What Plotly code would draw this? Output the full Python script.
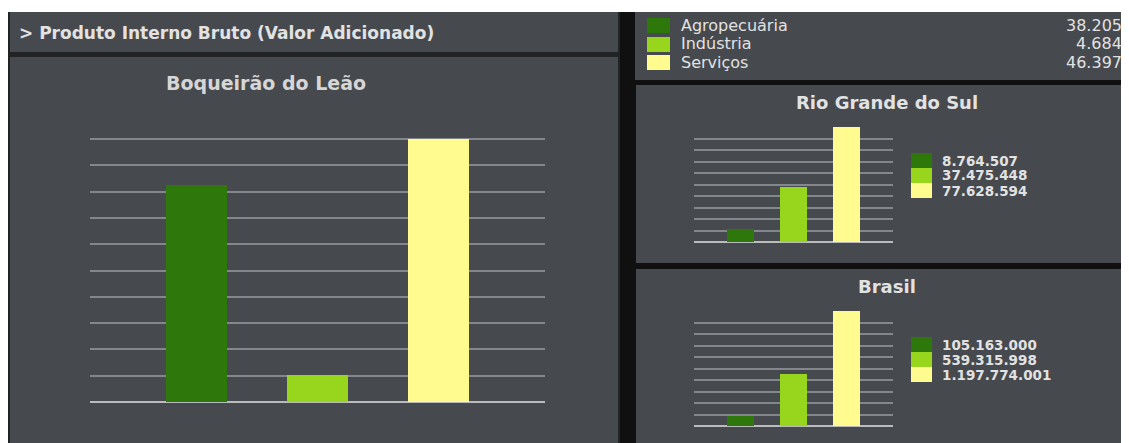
import plotly.graph_objects as go

# ---------------- data ----------------
categories = ["Agropecuária", "Indústria", "Serviços"]
boqueirao_values = [38205, 4684, 46397]
rs_values = [8764507, 37475448, 77628594]
brasil_values = [105163000, 539315998, 1197774001]

header_title = "> Produto Interno Bruto (Valor Adicionado)"
main_title = "Boqueirão do Leão"
rs_title = "Rio Grande do Sul"
brasil_title = "Brasil"

# ---------------- style ----------------
# the page body adds an 8px margin, so the figure is 8px smaller than the window
OX, OY = 8, 8
W, H = 1129 - OX, 443 - OY
COLORS = ["#2e780b", "#98d61d", "#fffb8f"]
PANEL = "#46494d"
DARK = "#101010"
GRID = "#83868a"
BASE = "#b9bbbd"
TEXT = "#e2e2e2"
FONT = "DejaVu Sans"


def fmt(v):
    return f"{v:,}".replace(",", ".")


def px(x):
    return (x - OX) / W


def py(y):
    return 1 - (y - OY) / H


fig = go.Figure()

panels = [
    ("x", "y", boqueirao_values),
    ("x2", "y2", rs_values),
    ("x3", "y3", brasil_values),
]
for xa, ya, vals in panels:
    fig.add_trace(go.Bar(
        x=categories, y=vals, xaxis=xa, yaxis=ya,
        marker=dict(color=COLORS, line=dict(width=0)),
        width=0.5, showlegend=False, hoverinfo="x+y",
    ))


def yaxis_cfg(vals, top, bottom, anchor):
    m = max(vals)
    return dict(
        domain=[py(bottom), py(top)], range=[0, m * 1.004],
        tickvals=[m * i / 10 for i in range(11)],
        showticklabels=False, showgrid=True, gridcolor=GRID, gridwidth=2,
        zeroline=True, zerolinecolor=BASE, zerolinewidth=2,
        fixedrange=True, anchor=anchor,
    )


def xaxis_cfg(left, right, anchor):
    return dict(
        domain=[px(left), px(right)], range=[-0.876, 2.876],
        showticklabels=False, showgrid=False, zeroline=False,
        type="category", fixedrange=True, anchor=anchor,
    )


shapes = []


def rect(x0, y0, x1, y1, color):
    shapes.append(dict(type="rect", xref="paper", yref="paper",
                       x0=px(x0), x1=px(x1), y0=py(y1), y1=py(y0),
                       fillcolor=color, line=dict(width=0), layer="below"))


# background frame pieces
rect(8, 12, 620, 443, "#222324")
rect(10, 12, 618, 52, PANEL)
rect(10, 57, 618, 443, PANEL)
rect(620, 12, 1129, 443, DARK)
rect(635, 12, 1129, 80, PANEL)
rect(636, 85, 1129, 263, PANEL)
rect(636, 269, 1129, 443, PANEL)

annotations = []


def text(x, y, s, size, anchor="left", bold=False, color=TEXT):
    annotations.append(dict(
        x=px(x), y=py(y), xref="paper", yref="paper", text=s, showarrow=False,
        xanchor=anchor, yanchor="middle",
        font=dict(family=FONT, size=size, color=color,
                  weight="bold" if bold else "normal"),
    ))


text(17, 33, header_title, 17, bold=True)
text(266, 83, main_title, 19, anchor="center", bold=True, color="#d6d6d6")
text(887, 102, rs_title, 18, anchor="center", bold=True)
text(887, 286, brasil_title, 18, anchor="center", bold=True)

# top-right legend
leg_rows = [25, 44, 62]
for i, cat in enumerate(categories):
    y = leg_rows[i]
    rect(647, y - 7, 670, y + 8, COLORS[i])
    text(679, y, cat, 16)
    text(1124, y, fmt(boqueirao_values[i]), 16, anchor="right")

# small legends for RS and Brasil
for vals, y0 in [(rs_values, 153), (brasil_values, 337)]:
    for i, v in enumerate(vals):
        yt = y0 + 15 * i
        rect(911, yt, 932, yt + 15, COLORS[i])
        text(940, yt + 7.5, fmt(v), 13.5, bold=True)

fig.update_layout(
    width=W, height=H,
    margin=dict(l=0, r=0, t=0, b=0),
    paper_bgcolor="white", plot_bgcolor="rgba(0,0,0,0)",
    showlegend=False, bargap=0,
    xaxis=xaxis_cfg(90, 545, "y"), yaxis=yaxis_cfg(boqueirao_values, 138, 402, "x"),
    xaxis2=xaxis_cfg(694, 893, "y2"), yaxis2=yaxis_cfg(rs_values, 127, 242, "x2"),
    xaxis3=xaxis_cfg(694, 893, "y3"), yaxis3=yaxis_cfg(brasil_values, 311, 426, "x3"),
    shapes=shapes, annotations=annotations,
)

fig.write_html("out.html", config={"displayModeBar": False})
